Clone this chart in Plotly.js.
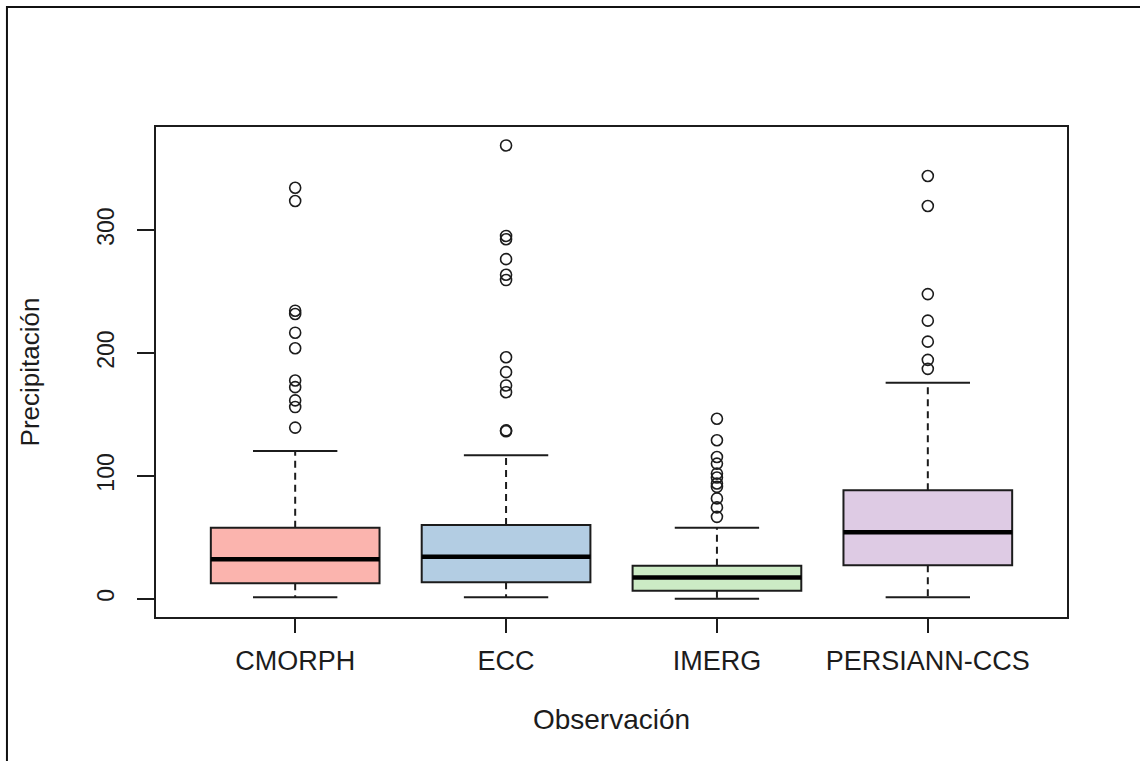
<!DOCTYPE html>
<html>
<head>
<meta charset="utf-8">
<script src="https://cdn.plot.ly/plotly-3.0.1.min.js"></script>
<style>
  html, body { margin: 0; padding: 0; background: #ffffff; }
  #chart { width: 1140px; height: 761px; }
</style>
</head>
<body>
<div id="chart"></div>
<script>
// ---- data ----
const categories = ["CMORPH", "ECC", "IMERG", "PERSIANN-CCS"];
const positions = [1, 2, 3, 4];
const q1Values = [12.7, 13.5, 6.5, 27.3];
const medianValues = [32.2, 34.3, 17.3, 54.1];
const q3Values = [57.8, 60.0, 27.0, 88.4];
const lowerWhisker = [1.4, 1.4, 0.0, 1.4];
const upperWhisker = [120.3, 116.8, 57.8, 175.7];
const outliersCMORPH = [334.4, 323.6, 234.4, 231.7, 216.5, 203.8, 177.6, 172.2, 161.4, 156.0, 139.3];
const outliersECC = [368.8, 295.2, 292.5, 276.3, 263.6, 259.3, 196.5, 184.4, 173.6, 168.1, 137.0, 136.3];
const outliersIMERG = [146.5, 129.0, 115.4, 110.0, 101.9, 98.7, 93.8, 91.1, 81.7, 74.4, 66.7];
const outliersPERSIANN = [343.9, 319.5, 247.9, 226.3, 209.2, 194.4, 187.1];
const fillColors = ["#FBB4AE", "#B3CDE3", "#CCEBC5", "#DECBE4"];
const yTickValues = [0, 100, 200, 300];
const yTickLabels = ["0", "100", "200", "300"];

// ---- styling ----
const ink = "#1c1c1c";
const boxWidth = 0.8;
const capHalf = 0.2;
const fontFamily = "Liberation Sans, Arial, sans-serif";

const traces = [];

// boxes (quartiles) drawn by Plotly's box trace
categories.forEach((c, i) => {
  traces.push({
    type: "box",
    x: [positions[i]],
    q1: [q1Values[i]],
    median: [medianValues[i]],
    q3: [q3Values[i]],
    lowerfence: [q1Values[i]],
    upperfence: [q3Values[i]],
    width: boxWidth,
    whiskerwidth: 0,
    boxpoints: false,
    fillcolor: fillColors[i],
    line: { color: ink, width: 2 },
    name: c,
    hoverinfo: "skip"
  });
});

// dashed whiskers
const wx = [], wy = [];
positions.forEach((p, i) => {
  wx.push(p, p, null, p, p, null);
  wy.push(q3Values[i], upperWhisker[i], null, q1Values[i], lowerWhisker[i], null);
});
traces.push({
  type: "scatter", mode: "lines", x: wx, y: wy,
  line: { color: ink, width: 2, dash: "7px,5px" },
  hoverinfo: "skip"
});

// whisker caps
const cx = [], cy = [];
positions.forEach((p, i) => {
  cx.push(p - capHalf, p + capHalf, null, p - capHalf, p + capHalf, null);
  cy.push(upperWhisker[i], upperWhisker[i], null, lowerWhisker[i], lowerWhisker[i], null);
});
traces.push({
  type: "scatter", mode: "lines", x: cx, y: cy,
  line: { color: ink, width: 2 },
  hoverinfo: "skip"
});

// thick medians
const mx = [], my = [];
positions.forEach((p, i) => {
  mx.push(p - boxWidth / 2, p + boxWidth / 2, null);
  my.push(medianValues[i], medianValues[i], null);
});
traces.push({
  type: "scatter", mode: "lines", x: mx, y: my,
  line: { color: "#000000", width: 4.5 },
  hoverinfo: "skip"
});

// outliers
const outlierSets = [outliersCMORPH, outliersECC, outliersIMERG, outliersPERSIANN];
const ox = [], oy = [];
outlierSets.forEach((set, i) => {
  set.forEach(v => { ox.push(positions[i]); oy.push(v); });
});
traces.push({
  type: "scatter", mode: "markers", x: ox, y: oy,
  marker: { symbol: "circle-open", size: 11, color: ink, line: { width: 1.6, color: ink } },
  hoverinfo: "skip"
});

const layout = {
  width: 1140,
  height: 761,
  margin: { l: 156, r: 73, t: 127, b: 144 },
  paper_bgcolor: "#ffffff",
  plot_bgcolor: "#ffffff",
  showlegend: false,
  font: { family: fontFamily, color: ink },
  xaxis: {
    range: [0.34, 4.66],
    tickvals: positions,
    ticktext: categories,
    ticks: "outside",
    ticklen: 14,
    tickwidth: 2,
    tickcolor: ink,
    showline: true,
    mirror: true,
    linecolor: ink,
    linewidth: 2,
    showgrid: false,
    zeroline: false,
    tickfont: { size: 27, color: ink, family: fontFamily },
    ticklabelstandoff: 5,
    title: { text: "Observación", font: { size: 28, color: ink, family: fontFamily }, standoff: 34 },
    automargin: false
  },
  yaxis: {
    range: [-14.76, 383.8],
    tickvals: yTickValues,
    ticktext: yTickLabels,
    tickangle: -90,
    ticks: "outside",
    ticklen: 17,
    tickwidth: 2,
    tickcolor: ink,
    showline: true,
    mirror: true,
    linecolor: ink,
    linewidth: 2,
    showgrid: false,
    zeroline: false,
    tickfont: { size: 23, color: ink, family: fontFamily },
    ticklabelstandoff: 14,
    title: { text: "Precipitación", font: { size: 26, color: ink, family: fontFamily }, standoff: 46 },
    automargin: false
  },
  shapes: [
    {
      type: "rect", xref: "paper", yref: "paper",
      x0: -0.1636, x1: 1.2, y0: -0.6, y1: 1.2449,
      line: { color: "#111111", width: 2 },
      fillcolor: "rgba(0,0,0,0)",
      layer: "below"
    }
  ]
};

Plotly.newPlot("chart", traces, layout, { displayModeBar: false, staticPlot: true });
</script>
</body>
</html>
